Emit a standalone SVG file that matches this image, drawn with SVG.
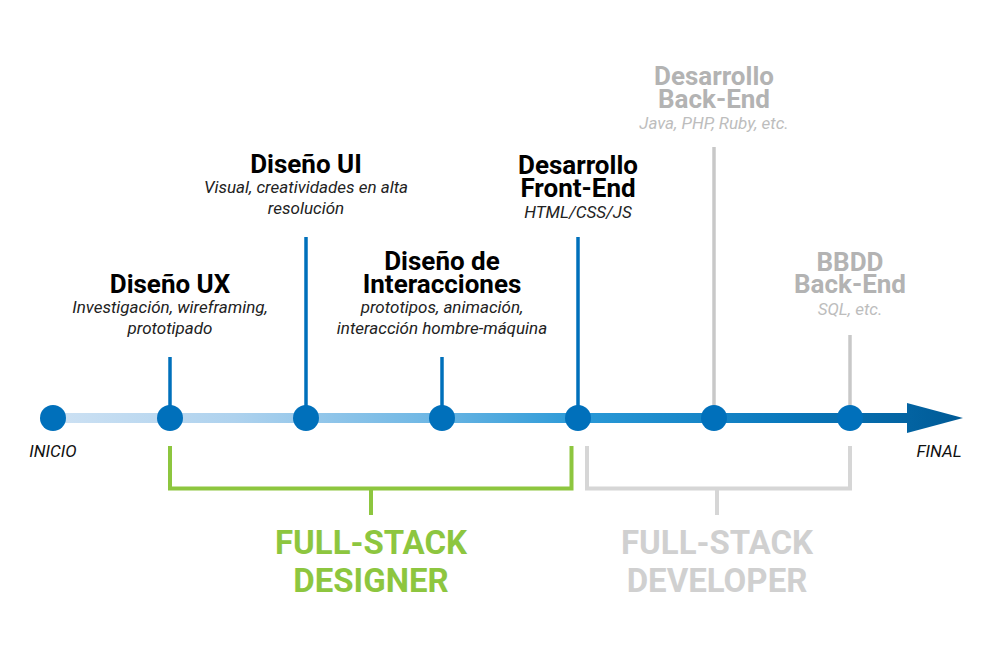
<svg xmlns="http://www.w3.org/2000/svg" width="1000" height="656" viewBox="0 0 1000 656">
<style>
.h{font-family:Roboto,"Liberation Sans",sans-serif;font-weight:700;font-size:26px;text-anchor:middle;fill:#000}
.d{font-family:Roboto,"Liberation Sans",sans-serif;font-style:italic;font-size:17px;text-anchor:middle;fill:#222}
.hg{fill:#b3b3b3}
.dg{fill:#bdbdbd}
.end{font-family:Roboto,"Liberation Sans",sans-serif;font-style:italic;font-size:17px;text-anchor:middle;fill:#111}
.big{font-family:Roboto,"Liberation Sans",sans-serif;font-weight:700;font-size:33px;text-anchor:middle}
.dot{fill:#0070bb}
.stem{stroke:#0070bb;stroke-width:3.5;fill:none}
.stemg{stroke:#c8c8c8;stroke-width:3.5;fill:none}
</style>
<defs>
<linearGradient id="tl" gradientUnits="userSpaceOnUse" x1="53" y1="0" x2="963" y2="0">
<stop offset="0" stop-color="#cde1f3"/>
<stop offset="0.2" stop-color="#aed2ee"/>
<stop offset="0.4" stop-color="#73b9e5"/>
<stop offset="0.58" stop-color="#2a99d7"/>
<stop offset="0.8" stop-color="#0a79bd"/>
<stop offset="1" stop-color="#005a96"/>
</linearGradient>
</defs>
<rect width="1000" height="656" fill="#fff"/>
<g id="connectors">
<rect x="53" y="413" width="858" height="10" fill="url(#tl)"/>
<polygon points="907,403 963,418 907,433" fill="url(#tl)"/>
<line class="stem" x1="170" y1="357" x2="170" y2="418"/>
<line class="stem" x1="306" y1="237" x2="306" y2="418"/>
<line class="stem" x1="442" y1="357" x2="442" y2="418"/>
<line class="stem" x1="578" y1="237" x2="578" y2="418"/>
<line class="stemg" x1="714" y1="147" x2="714" y2="418"/>
<line class="stemg" x1="850" y1="335" x2="850" y2="418"/>
<polyline points="170,446 170,488.5 571.5,488.5 571.5,446" fill="none" stroke="#8dc63f" stroke-width="4"/>
<line x1="371" y1="488" x2="371" y2="515" stroke="#8dc63f" stroke-width="4"/>
<polyline points="587,446 587,488.5 850,488.5 850,446" fill="none" stroke="#d6d6d6" stroke-width="4"/>
<line x1="717" y1="488" x2="717" y2="515" stroke="#d6d6d6" stroke-width="4"/>
</g>
<g id="inicio">
<circle class="dot" cx="53" cy="418" r="13"/>
<text class="end" x="53" y="457">INICIO</text>
</g>
<g id="ux">
<circle class="dot" cx="170" cy="418" r="13"/>
<text class="h" x="170" y="293">Diseño UX</text>
<text class="d" x="170" y="313">Investigación, wireframing,</text>
<text class="d" x="170" y="334">prototipado</text>
</g>
<g id="ui">
<circle class="dot" cx="306" cy="418" r="13"/>
<text class="h" x="306" y="173">Diseño UI</text>
<text class="d" x="306" y="193">Visual, creatividades en alta</text>
<text class="d" x="306" y="214">resolución</text>
</g>
<g id="interacciones">
<circle class="dot" cx="442" cy="418" r="13"/>
<text class="h" x="442" y="270">Diseño de</text>
<text class="h" x="442" y="293">Interacciones</text>
<text class="d" x="442" y="313">prototipos, animación,</text>
<text class="d" x="442" y="334">interacción hombre-máquina</text>
</g>
<g id="frontend">
<circle class="dot" cx="578" cy="418" r="13"/>
<text class="h" x="578" y="174">Desarrollo</text>
<text class="h" x="578" y="197">Front-End</text>
<text class="d" x="578" y="218">HTML/CSS/JS</text>
</g>
<g id="backend">
<circle class="dot" cx="714" cy="418" r="13"/>
<text class="h hg" x="714" y="85">Desarrollo</text>
<text class="h hg" x="714" y="108">Back-End</text>
<text class="d dg" x="714" y="129">Java, PHP, Ruby, etc.</text>
</g>
<g id="bbdd">
<circle class="dot" cx="850" cy="418" r="13"/>
<text class="h hg" x="850" y="271">BBDD</text>
<text class="h hg" x="850" y="293">Back-End</text>
<text class="d dg" x="850" y="315">SQL, etc.</text>
</g>
<g id="final">
<text class="end" x="939" y="457">FINAL</text>
</g>
<g id="designer">
<text class="big" x="371" y="554" fill="#8dc63f">FULL-STACK</text>
<text class="big" x="371" y="592" fill="#8dc63f">DESIGNER</text>
</g>
<g id="developer">
<text class="big" x="717" y="554" fill="#d0d0d0">FULL-STACK</text>
<text class="big" x="717" y="592" fill="#d0d0d0">DEVELOPER</text>
</g>
</svg>
